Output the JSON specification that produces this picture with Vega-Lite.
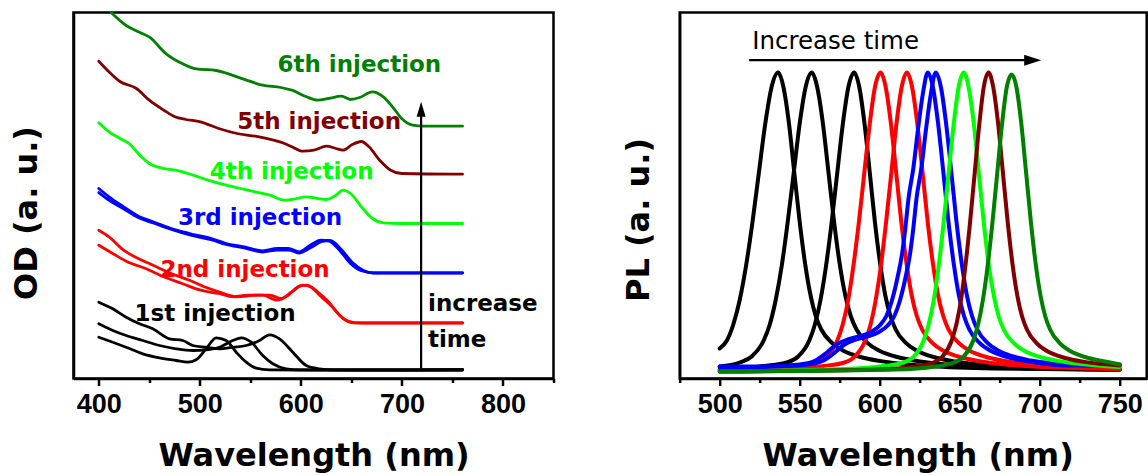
{
"$schema": "https://vega.github.io/schema/vega-lite/v6.json",
"background": "white",
"padding": {"left": 8.5, "top": 9.5, "right": 0, "bottom": 0},
"spacing": 64.2,
"config": {
 "view": {"stroke": "black", "strokeWidth": 2.5},
 "axis": {"grid": false, "domainColor": "black", "domainWidth": 2.5, "tickColor": "black", "tickWidth": 2.5, "labelFont": "Liberation Sans", "labelFontWeight": "bold", "labelFontSize": 27, "labelColor": "black", "labelOverlap": false, "labelFlush": false, "titleFont": "DejaVu Sans", "titleFontWeight": "bold", "titleFontSize": 32, "titleColor": "black"}
},
"datasets": {
 "od": [
  {"s":"k1","inj":"1st","nm":400,"v":41.3},{"s":"k1","inj":"1st","nm":413.9,"v":36.3},{"s":"k1","inj":"1st","nm":427.1,"v":31.3},{"s":"k1","inj":"1st","nm":443.6,"v":24.7},{"s":"k1","inj":"1st","nm":460.1,"v":20.7},{"s":"k1","inj":"1st","nm":476.6,"v":18},{"s":"k1","inj":"1st","nm":488.1,"v":16.3},{"s":"k1","inj":"1st","nm":496.4,"v":18.7},{"s":"k1","inj":"1st","nm":506.3,"v":29.7},{"s":"k1","inj":"1st","nm":516.2,"v":40.7},{"s":"k1","inj":"1st","nm":526.1,"v":38},{"s":"k1","inj":"1st","nm":536,"v":26.3},{"s":"k1","inj":"1st","nm":545.9,"v":16.3},{"s":"k1","inj":"1st","nm":555.8,"v":10.3},{"s":"k1","inj":"1st","nm":569,"v":8.7},{"s":"k1","inj":"1st","nm":600,"v":8.5},{"s":"k1","inj":"1st","nm":660,"v":8.5},{"s":"k1","inj":"1st","nm":760,"v":8.5},
  {"s":"k2","inj":"1st","nm":400,"v":54.7},{"s":"k2","inj":"1st","nm":413.9,"v":48},{"s":"k2","inj":"1st","nm":427.1,"v":43},{"s":"k2","inj":"1st","nm":443.6,"v":38},{"s":"k2","inj":"1st","nm":460.1,"v":33},{"s":"k2","inj":"1st","nm":476.6,"v":29.7},{"s":"k2","inj":"1st","nm":493,"v":28},{"s":"k2","inj":"1st","nm":506.3,"v":28.7},{"s":"k2","inj":"1st","nm":519.5,"v":31.3},{"s":"k2","inj":"1st","nm":532.6,"v":38},{"s":"k2","inj":"1st","nm":541,"v":40.7},{"s":"k2","inj":"1st","nm":550.9,"v":36.3},{"s":"k2","inj":"1st","nm":562.3,"v":23},{"s":"k2","inj":"1st","nm":572.2,"v":14.7},{"s":"k2","inj":"1st","nm":585.5,"v":9.7},{"s":"k2","inj":"1st","nm":598.7,"v":8.7},{"s":"k2","inj":"1st","nm":650,"v":8.5},{"s":"k2","inj":"1st","nm":760,"v":8.5},
  {"s":"k3","inj":"1st","nm":400,"v":76.3},{"s":"k3","inj":"1st","nm":413.9,"v":69.7},{"s":"k3","inj":"1st","nm":427.1,"v":61.3},{"s":"k3","inj":"1st","nm":440.3,"v":54.7},{"s":"k3","inj":"1st","nm":453.5,"v":49.7},{"s":"k3","inj":"1st","nm":470,"v":39.7},{"s":"k3","inj":"1st","nm":483.2,"v":38},{"s":"k3","inj":"1st","nm":493,"v":33},{"s":"k3","inj":"1st","nm":506.3,"v":31.3},{"s":"k3","inj":"1st","nm":519.5,"v":29.7},{"s":"k3","inj":"1st","nm":532.6,"v":31.3},{"s":"k3","inj":"1st","nm":545.9,"v":33},{"s":"k3","inj":"1st","nm":559.1,"v":38},{"s":"k3","inj":"1st","nm":569,"v":43.7},{"s":"k3","inj":"1st","nm":578.9,"v":39.7},{"s":"k3","inj":"1st","nm":592,"v":26.3},{"s":"k3","inj":"1st","nm":605.3,"v":13},{"s":"k3","inj":"1st","nm":618.4,"v":9.7},{"s":"k3","inj":"1st","nm":631.6,"v":8.7},{"s":"k3","inj":"1st","nm":700,"v":8.5},{"s":"k3","inj":"1st","nm":760,"v":9},
  {"s":"r1","inj":"2nd","nm":400,"v":148.3},{"s":"r1","inj":"2nd","nm":410.1,"v":141.7},{"s":"r1","inj":"2nd","nm":424.6,"v":128.3},{"s":"r1","inj":"2nd","nm":439.1,"v":120},{"s":"r1","inj":"2nd","nm":453.6,"v":113.3},{"s":"r1","inj":"2nd","nm":471.7,"v":105},{"s":"r1","inj":"2nd","nm":489.8,"v":98.3},{"s":"r1","inj":"2nd","nm":504.3,"v":91.7},{"s":"r1","inj":"2nd","nm":518.7,"v":86.7},{"s":"r1","inj":"2nd","nm":536.8,"v":81.7},{"s":"r1","inj":"2nd","nm":554.9,"v":83.3},{"s":"r1","inj":"2nd","nm":569.4,"v":83.3},{"s":"r1","inj":"2nd","nm":580.3,"v":80},{"s":"r1","inj":"2nd","nm":591.1,"v":86.7},{"s":"r1","inj":"2nd","nm":602,"v":93.3},{"s":"r1","inj":"2nd","nm":609.2,"v":91.7},{"s":"r1","inj":"2nd","nm":620.1,"v":81.7},{"s":"r1","inj":"2nd","nm":631,"v":71.7},{"s":"r1","inj":"2nd","nm":641.8,"v":60},{"s":"r1","inj":"2nd","nm":652.7,"v":55.7},{"s":"r1","inj":"2nd","nm":760,"v":55.7},
  {"s":"r2","inj":"2nd","nm":400,"v":133.3},{"s":"r2","inj":"2nd","nm":413.8,"v":125},{"s":"r2","inj":"2nd","nm":428.2,"v":116.7},{"s":"r2","inj":"2nd","nm":446.3,"v":110},{"s":"r2","inj":"2nd","nm":464.4,"v":101.7},{"s":"r2","inj":"2nd","nm":482.5,"v":95},{"s":"r2","inj":"2nd","nm":500.6,"v":88.3},{"s":"r2","inj":"2nd","nm":518.7,"v":85},{"s":"r2","inj":"2nd","nm":533.2,"v":81.7},{"s":"r2","inj":"2nd","nm":547.7,"v":83.3},{"s":"r2","inj":"2nd","nm":562.2,"v":83.3},{"s":"r2","inj":"2nd","nm":576.7,"v":78.3},{"s":"r2","inj":"2nd","nm":587.5,"v":83.3},{"s":"r2","inj":"2nd","nm":598.4,"v":92.3},{"s":"r2","inj":"2nd","nm":605.6,"v":93.3},{"s":"r2","inj":"2nd","nm":616.5,"v":86.7},{"s":"r2","inj":"2nd","nm":627.3,"v":76.7},{"s":"r2","inj":"2nd","nm":638.2,"v":63.3},{"s":"r2","inj":"2nd","nm":649.1,"v":56.7},{"s":"r2","inj":"2nd","nm":660,"v":55.5},{"s":"r2","inj":"2nd","nm":760,"v":55.5},
  {"s":"b1","inj":"3rd","nm":400,"v":190},{"s":"b1","inj":"3rd","nm":410.1,"v":181.7},{"s":"b1","inj":"3rd","nm":424.6,"v":171.7},{"s":"b1","inj":"3rd","nm":439.1,"v":162.3},{"s":"b1","inj":"3rd","nm":453.6,"v":156.7},{"s":"b1","inj":"3rd","nm":471.7,"v":150},{"s":"b1","inj":"3rd","nm":489.8,"v":145},{"s":"b1","inj":"3rd","nm":511.5,"v":140},{"s":"b1","inj":"3rd","nm":526,"v":135},{"s":"b1","inj":"3rd","nm":544.1,"v":131.7},{"s":"b1","inj":"3rd","nm":562.2,"v":127.7},{"s":"b1","inj":"3rd","nm":576.7,"v":130},{"s":"b1","inj":"3rd","nm":587.5,"v":130},{"s":"b1","inj":"3rd","nm":598.4,"v":126.7},{"s":"b1","inj":"3rd","nm":609.2,"v":133.3},{"s":"b1","inj":"3rd","nm":620.1,"v":138.3},{"s":"b1","inj":"3rd","nm":627.3,"v":137.7},{"s":"b1","inj":"3rd","nm":638.2,"v":128.3},{"s":"b1","inj":"3rd","nm":649.1,"v":115},{"s":"b1","inj":"3rd","nm":659.9,"v":107.7},{"s":"b1","inj":"3rd","nm":670.8,"v":105.7},{"s":"b1","inj":"3rd","nm":760,"v":105.7},
  {"s":"b2","inj":"3rd","nm":400,"v":186},{"s":"b2","inj":"3rd","nm":410,"v":178.5},{"s":"b2","inj":"3rd","nm":425,"v":169.5},{"s":"b2","inj":"3rd","nm":439,"v":161},{"s":"b2","inj":"3rd","nm":454,"v":155.5},{"s":"b2","inj":"3rd","nm":472,"v":149},{"s":"b2","inj":"3rd","nm":490,"v":143.5},{"s":"b2","inj":"3rd","nm":512,"v":138.5},{"s":"b2","inj":"3rd","nm":526,"v":134},{"s":"b2","inj":"3rd","nm":544,"v":130.5},{"s":"b2","inj":"3rd","nm":562,"v":126.5},{"s":"b2","inj":"3rd","nm":577,"v":128.5},{"s":"b2","inj":"3rd","nm":588,"v":128.5},{"s":"b2","inj":"3rd","nm":598,"v":125.5},{"s":"b2","inj":"3rd","nm":610,"v":131},{"s":"b2","inj":"3rd","nm":621,"v":137},{"s":"b2","inj":"3rd","nm":629,"v":138},{"s":"b2","inj":"3rd","nm":640,"v":129},{"s":"b2","inj":"3rd","nm":651,"v":116},{"s":"b2","inj":"3rd","nm":662,"v":108},{"s":"b2","inj":"3rd","nm":672,"v":105.5},{"s":"b2","inj":"3rd","nm":760,"v":105.5},
  {"s":"l1","inj":"4th","nm":400,"v":255.7},{"s":"l1","inj":"4th","nm":410.1,"v":246.7},{"s":"l1","inj":"4th","nm":421,"v":240},{"s":"l1","inj":"4th","nm":430,"v":235},{"s":"l1","inj":"4th","nm":439.1,"v":225},{"s":"l1","inj":"4th","nm":450,"v":215},{"s":"l1","inj":"4th","nm":464.4,"v":210},{"s":"l1","inj":"4th","nm":478.9,"v":207.7},{"s":"l1","inj":"4th","nm":493.4,"v":203.3},{"s":"l1","inj":"4th","nm":507.9,"v":198.3},{"s":"l1","inj":"4th","nm":526,"v":193.3},{"s":"l1","inj":"4th","nm":540.5,"v":190},{"s":"l1","inj":"4th","nm":554.9,"v":186.7},{"s":"l1","inj":"4th","nm":569.4,"v":183.3},{"s":"l1","inj":"4th","nm":583.9,"v":178.3},{"s":"l1","inj":"4th","nm":591.1,"v":179},{"s":"l1","inj":"4th","nm":605.6,"v":181.7},{"s":"l1","inj":"4th","nm":616.5,"v":180},{"s":"l1","inj":"4th","nm":625.5,"v":179},{"s":"l1","inj":"4th","nm":634.6,"v":183.3},{"s":"l1","inj":"4th","nm":641.8,"v":188.3},{"s":"l1","inj":"4th","nm":649.1,"v":185},{"s":"l1","inj":"4th","nm":659.9,"v":171.7},{"s":"l1","inj":"4th","nm":670.8,"v":160},{"s":"l1","inj":"4th","nm":681.6,"v":155.7},{"s":"l1","inj":"4th","nm":699.7,"v":155},{"s":"l1","inj":"4th","nm":760,"v":155},
  {"s":"m1","inj":"5th","nm":400,"v":317.3},{"s":"m1","inj":"5th","nm":410.1,"v":306.7},{"s":"m1","inj":"5th","nm":421,"v":297},{"s":"m1","inj":"5th","nm":437.3,"v":290},{"s":"m1","inj":"5th","nm":450,"v":278.3},{"s":"m1","inj":"5th","nm":464.4,"v":268.3},{"s":"m1","inj":"5th","nm":475.3,"v":261.7},{"s":"m1","inj":"5th","nm":486.2,"v":259},{"s":"m1","inj":"5th","nm":500.6,"v":256.7},{"s":"m1","inj":"5th","nm":518.7,"v":250},{"s":"m1","inj":"5th","nm":536.8,"v":245},{"s":"m1","inj":"5th","nm":554.9,"v":242.3},{"s":"m1","inj":"5th","nm":573,"v":238.3},{"s":"m1","inj":"5th","nm":583.9,"v":235},{"s":"m1","inj":"5th","nm":591.1,"v":231.7},{"s":"m1","inj":"5th","nm":602,"v":227.3},{"s":"m1","inj":"5th","nm":612.9,"v":228.3},{"s":"m1","inj":"5th","nm":625.5,"v":232.3},{"s":"m1","inj":"5th","nm":634.6,"v":230},{"s":"m1","inj":"5th","nm":641.8,"v":228.3},{"s":"m1","inj":"5th","nm":650.9,"v":234},{"s":"m1","inj":"5th","nm":659.9,"v":237},{"s":"m1","inj":"5th","nm":667.2,"v":232},{"s":"m1","inj":"5th","nm":678,"v":218.3},{"s":"m1","inj":"5th","nm":688.9,"v":208.3},{"s":"m1","inj":"5th","nm":699.7,"v":205},{"s":"m1","inj":"5th","nm":760,"v":204.3},
  {"s":"g1","inj":"6th","nm":412.3,"v":366},{"s":"g1","inj":"6th","nm":427.1,"v":353},{"s":"g1","inj":"6th","nm":440.3,"v":346.3},{"s":"g1","inj":"6th","nm":450.2,"v":341.3},{"s":"g1","inj":"6th","nm":466.7,"v":324.7},{"s":"g1","inj":"6th","nm":483.2,"v":314.7},{"s":"g1","inj":"6th","nm":496.4,"v":309.7},{"s":"g1","inj":"6th","nm":516.2,"v":308},{"s":"g1","inj":"6th","nm":542.5,"v":299.7},{"s":"g1","inj":"6th","nm":562.2,"v":293.3},{"s":"g1","inj":"6th","nm":580.3,"v":291},{"s":"g1","inj":"6th","nm":591.1,"v":288.3},{"s":"g1","inj":"6th","nm":605.6,"v":281.7},{"s":"g1","inj":"6th","nm":616.5,"v":278.3},{"s":"g1","inj":"6th","nm":627.3,"v":280},{"s":"g1","inj":"6th","nm":640,"v":282.3},{"s":"g1","inj":"6th","nm":649.1,"v":279},{"s":"g1","inj":"6th","nm":658.1,"v":281},{"s":"g1","inj":"6th","nm":670.8,"v":286.7},{"s":"g1","inj":"6th","nm":681.6,"v":281.7},{"s":"g1","inj":"6th","nm":690.7,"v":271.7},{"s":"g1","inj":"6th","nm":699.7,"v":260},{"s":"g1","inj":"6th","nm":710.6,"v":253.3},{"s":"g1","inj":"6th","nm":721.5,"v":252.3},{"s":"g1","inj":"6th","nm":760,"v":252.3}
 ],
 "pl": [
  {"s":"p1","inj":"1st","nm":500,"v":30},{"s":"p1","inj":"1st","nm":504.5,"v":38},{"s":"p1","inj":"1st","nm":508.5,"v":54},{"s":"p1","inj":"1st","nm":512.5,"v":78.5},{"s":"p1","inj":"1st","nm":516.5,"v":113},{"s":"p1","inj":"1st","nm":520.5,"v":156.5},{"s":"p1","inj":"1st","nm":524.5,"v":206},{"s":"p1","inj":"1st","nm":528.5,"v":255},{"s":"p1","inj":"1st","nm":532.5,"v":292},{"s":"p1","inj":"1st","nm":536.5,"v":306},{"s":"p1","inj":"1st","nm":539.9,"v":291},{"s":"p1","inj":"1st","nm":543.3,"v":255},{"s":"p1","inj":"1st","nm":546.6,"v":206},{"s":"p1","inj":"1st","nm":550,"v":156.5},{"s":"p1","inj":"1st","nm":553.4,"v":114.6},{"s":"p1","inj":"1st","nm":556.8,"v":83},{"s":"p1","inj":"1st","nm":560.1,"v":62},{"s":"p1","inj":"1st","nm":563.5,"v":49},{"s":"p1","inj":"1st","nm":570.3,"v":35.4},{"s":"p1","inj":"1st","nm":577,"v":28},{"s":"p1","inj":"1st","nm":590.5,"v":20.5},{"s":"p1","inj":"1st","nm":604,"v":16.6},{"s":"p1","inj":"1st","nm":631,"v":12.4},{"s":"p1","inj":"1st","nm":671.5,"v":10},{"s":"p1","inj":"1st","nm":750,"v":9},
  {"s":"p2","inj":"1st","nm":500,"v":12},{"s":"p2","inj":"1st","nm":512.5,"v":16},{"s":"p2","inj":"1st","nm":520,"v":22},{"s":"p2","inj":"1st","nm":527.5,"v":38},{"s":"p2","inj":"1st","nm":531.3,"v":54},{"s":"p2","inj":"1st","nm":535,"v":78.5},{"s":"p2","inj":"1st","nm":538.8,"v":113},{"s":"p2","inj":"1st","nm":542.5,"v":156.5},{"s":"p2","inj":"1st","nm":546.3,"v":206},{"s":"p2","inj":"1st","nm":550,"v":255},{"s":"p2","inj":"1st","nm":553.8,"v":292},{"s":"p2","inj":"1st","nm":557.5,"v":306},{"s":"p2","inj":"1st","nm":561,"v":291},{"s":"p2","inj":"1st","nm":564.5,"v":255},{"s":"p2","inj":"1st","nm":568,"v":206},{"s":"p2","inj":"1st","nm":571.5,"v":156.5},{"s":"p2","inj":"1st","nm":575,"v":114.6},{"s":"p2","inj":"1st","nm":578.5,"v":83},{"s":"p2","inj":"1st","nm":582,"v":62},{"s":"p2","inj":"1st","nm":585.5,"v":49},{"s":"p2","inj":"1st","nm":592.5,"v":35.4},{"s":"p2","inj":"1st","nm":599.5,"v":28},{"s":"p2","inj":"1st","nm":613.5,"v":20.5},{"s":"p2","inj":"1st","nm":627.5,"v":16.6},{"s":"p2","inj":"1st","nm":655.5,"v":12.4},{"s":"p2","inj":"1st","nm":697.5,"v":10},{"s":"p2","inj":"1st","nm":750,"v":9},
  {"s":"p3","inj":"1st","nm":500,"v":9},{"s":"p3","inj":"1st","nm":528,"v":12.5},{"s":"p3","inj":"1st","nm":542,"v":16},{"s":"p3","inj":"1st","nm":549,"v":22},{"s":"p3","inj":"1st","nm":556,"v":38},{"s":"p3","inj":"1st","nm":559.5,"v":54},{"s":"p3","inj":"1st","nm":563,"v":78.5},{"s":"p3","inj":"1st","nm":566.5,"v":113},{"s":"p3","inj":"1st","nm":570,"v":156.5},{"s":"p3","inj":"1st","nm":573.5,"v":206},{"s":"p3","inj":"1st","nm":577,"v":255},{"s":"p3","inj":"1st","nm":580.5,"v":292},{"s":"p3","inj":"1st","nm":584,"v":306},{"s":"p3","inj":"1st","nm":587.3,"v":291},{"s":"p3","inj":"1st","nm":590.5,"v":255},{"s":"p3","inj":"1st","nm":593.8,"v":206},{"s":"p3","inj":"1st","nm":597,"v":156.5},{"s":"p3","inj":"1st","nm":600.3,"v":114.6},{"s":"p3","inj":"1st","nm":603.5,"v":83},{"s":"p3","inj":"1st","nm":606.8,"v":62},{"s":"p3","inj":"1st","nm":610,"v":49},{"s":"p3","inj":"1st","nm":616.5,"v":35.4},{"s":"p3","inj":"1st","nm":623,"v":28},{"s":"p3","inj":"1st","nm":636,"v":20.5},{"s":"p3","inj":"1st","nm":649,"v":16.6},{"s":"p3","inj":"1st","nm":675,"v":12.4},{"s":"p3","inj":"1st","nm":714,"v":10},{"s":"p3","inj":"1st","nm":750,"v":9},
  {"s":"p4","inj":"2nd","nm":500,"v":8},{"s":"p4","inj":"2nd","nm":519.5,"v":9.5},{"s":"p4","inj":"2nd","nm":546.5,"v":12.5},{"s":"p4","inj":"2nd","nm":560,"v":16},{"s":"p4","inj":"2nd","nm":566.8,"v":22},{"s":"p4","inj":"2nd","nm":573.5,"v":38},{"s":"p4","inj":"2nd","nm":576.9,"v":54},{"s":"p4","inj":"2nd","nm":580.3,"v":78.5},{"s":"p4","inj":"2nd","nm":583.6,"v":113},{"s":"p4","inj":"2nd","nm":587,"v":156.5},{"s":"p4","inj":"2nd","nm":590.4,"v":206},{"s":"p4","inj":"2nd","nm":593.8,"v":255},{"s":"p4","inj":"2nd","nm":597.1,"v":292},{"s":"p4","inj":"2nd","nm":600.5,"v":306},{"s":"p4","inj":"2nd","nm":603.8,"v":291},{"s":"p4","inj":"2nd","nm":607,"v":255},{"s":"p4","inj":"2nd","nm":610.3,"v":206},{"s":"p4","inj":"2nd","nm":613.5,"v":156.5},{"s":"p4","inj":"2nd","nm":616.8,"v":114.6},{"s":"p4","inj":"2nd","nm":620,"v":83},{"s":"p4","inj":"2nd","nm":623.3,"v":62},{"s":"p4","inj":"2nd","nm":626.5,"v":49},{"s":"p4","inj":"2nd","nm":633,"v":35.4},{"s":"p4","inj":"2nd","nm":639.5,"v":28},{"s":"p4","inj":"2nd","nm":652.5,"v":20.5},{"s":"p4","inj":"2nd","nm":665.5,"v":16.6},{"s":"p4","inj":"2nd","nm":691.5,"v":12.4},{"s":"p4","inj":"2nd","nm":730.5,"v":10},{"s":"p4","inj":"2nd","nm":750,"v":9.5},
  {"s":"p5","inj":"2nd","nm":500,"v":8},{"s":"p5","inj":"2nd","nm":539,"v":9.5},{"s":"p5","inj":"2nd","nm":565,"v":12.5},{"s":"p5","inj":"2nd","nm":578,"v":16},{"s":"p5","inj":"2nd","nm":584.5,"v":22},{"s":"p5","inj":"2nd","nm":591,"v":38},{"s":"p5","inj":"2nd","nm":594.3,"v":54},{"s":"p5","inj":"2nd","nm":597.5,"v":78.5},{"s":"p5","inj":"2nd","nm":600.8,"v":113},{"s":"p5","inj":"2nd","nm":604,"v":156.5},{"s":"p5","inj":"2nd","nm":607.3,"v":206},{"s":"p5","inj":"2nd","nm":610.5,"v":255},{"s":"p5","inj":"2nd","nm":613.8,"v":292},{"s":"p5","inj":"2nd","nm":617,"v":306},{"s":"p5","inj":"2nd","nm":620.3,"v":291},{"s":"p5","inj":"2nd","nm":623.5,"v":255},{"s":"p5","inj":"2nd","nm":626.8,"v":206},{"s":"p5","inj":"2nd","nm":630,"v":156.5},{"s":"p5","inj":"2nd","nm":633.3,"v":114.6},{"s":"p5","inj":"2nd","nm":636.5,"v":83},{"s":"p5","inj":"2nd","nm":639.8,"v":62},{"s":"p5","inj":"2nd","nm":643,"v":49},{"s":"p5","inj":"2nd","nm":649.5,"v":35.4},{"s":"p5","inj":"2nd","nm":656,"v":28},{"s":"p5","inj":"2nd","nm":669,"v":20.5},{"s":"p5","inj":"2nd","nm":682,"v":16.6},{"s":"p5","inj":"2nd","nm":708,"v":12.4},{"s":"p5","inj":"2nd","nm":750,"v":10},
  {"s":"p6","inj":"3rd","nm":500,"v":12},{"s":"p6","inj":"3rd","nm":530,"v":12},{"s":"p6","inj":"3rd","nm":550,"v":14},{"s":"p6","inj":"3rd","nm":560,"v":18},{"s":"p6","inj":"3rd","nm":567,"v":26},{"s":"p6","inj":"3rd","nm":573,"v":34},{"s":"p6","inj":"3rd","nm":580,"v":39},{"s":"p6","inj":"3rd","nm":587,"v":42},{"s":"p6","inj":"3rd","nm":594,"v":46},{"s":"p6","inj":"3rd","nm":600,"v":53},{"s":"p6","inj":"3rd","nm":604,"v":62},{"s":"p6","inj":"3rd","nm":608,"v":80},{"s":"p6","inj":"3rd","nm":611,"v":100},{"s":"p6","inj":"3rd","nm":614,"v":125},{"s":"p6","inj":"3rd","nm":616,"v":150},{"s":"p6","inj":"3rd","nm":618,"v":180},{"s":"p6","inj":"3rd","nm":621,"v":210},{"s":"p6","inj":"3rd","nm":624,"v":250},{"s":"p6","inj":"3rd","nm":627,"v":285},{"s":"p6","inj":"3rd","nm":630,"v":306},{"s":"p6","inj":"3rd","nm":633.3,"v":291},{"s":"p6","inj":"3rd","nm":636.5,"v":255},{"s":"p6","inj":"3rd","nm":639.8,"v":206},{"s":"p6","inj":"3rd","nm":643,"v":156.5},{"s":"p6","inj":"3rd","nm":646.3,"v":114.6},{"s":"p6","inj":"3rd","nm":649.5,"v":83},{"s":"p6","inj":"3rd","nm":652.8,"v":62},{"s":"p6","inj":"3rd","nm":656,"v":49},{"s":"p6","inj":"3rd","nm":662.5,"v":35.4},{"s":"p6","inj":"3rd","nm":669,"v":28},{"s":"p6","inj":"3rd","nm":682,"v":20.5},{"s":"p6","inj":"3rd","nm":695,"v":16.6},{"s":"p6","inj":"3rd","nm":721,"v":13},{"s":"p6","inj":"3rd","nm":750,"v":13},
  {"s":"p7","inj":"3rd","nm":500,"v":11},{"s":"p7","inj":"3rd","nm":535,"v":12},{"s":"p7","inj":"3rd","nm":555,"v":14},{"s":"p7","inj":"3rd","nm":565,"v":18},{"s":"p7","inj":"3rd","nm":572,"v":26},{"s":"p7","inj":"3rd","nm":578,"v":34},{"s":"p7","inj":"3rd","nm":585,"v":39},{"s":"p7","inj":"3rd","nm":592,"v":42},{"s":"p7","inj":"3rd","nm":599,"v":46},{"s":"p7","inj":"3rd","nm":605,"v":53},{"s":"p7","inj":"3rd","nm":609,"v":62},{"s":"p7","inj":"3rd","nm":613,"v":80},{"s":"p7","inj":"3rd","nm":616,"v":100},{"s":"p7","inj":"3rd","nm":619,"v":125},{"s":"p7","inj":"3rd","nm":621,"v":150},{"s":"p7","inj":"3rd","nm":623,"v":180},{"s":"p7","inj":"3rd","nm":626,"v":210},{"s":"p7","inj":"3rd","nm":629,"v":250},{"s":"p7","inj":"3rd","nm":632,"v":285},{"s":"p7","inj":"3rd","nm":635,"v":306},{"s":"p7","inj":"3rd","nm":638.3,"v":291},{"s":"p7","inj":"3rd","nm":641.5,"v":255},{"s":"p7","inj":"3rd","nm":644.8,"v":206},{"s":"p7","inj":"3rd","nm":648,"v":156.5},{"s":"p7","inj":"3rd","nm":651.3,"v":114.6},{"s":"p7","inj":"3rd","nm":654.5,"v":83},{"s":"p7","inj":"3rd","nm":657.8,"v":62},{"s":"p7","inj":"3rd","nm":661,"v":49},{"s":"p7","inj":"3rd","nm":667.5,"v":35.4},{"s":"p7","inj":"3rd","nm":674,"v":28},{"s":"p7","inj":"3rd","nm":687,"v":20.5},{"s":"p7","inj":"3rd","nm":700,"v":16.6},{"s":"p7","inj":"3rd","nm":726,"v":14},{"s":"p7","inj":"3rd","nm":750,"v":14},
  {"s":"p8","inj":"4th","nm":500,"v":7},{"s":"p8","inj":"4th","nm":577.5,"v":9.5},{"s":"p8","inj":"4th","nm":602.5,"v":12.5},{"s":"p8","inj":"4th","nm":615,"v":16},{"s":"p8","inj":"4th","nm":621.3,"v":22},{"s":"p8","inj":"4th","nm":627.5,"v":38},{"s":"p8","inj":"4th","nm":630.6,"v":54},{"s":"p8","inj":"4th","nm":633.8,"v":78.5},{"s":"p8","inj":"4th","nm":636.9,"v":113},{"s":"p8","inj":"4th","nm":640,"v":156.5},{"s":"p8","inj":"4th","nm":643.1,"v":206},{"s":"p8","inj":"4th","nm":646.3,"v":255},{"s":"p8","inj":"4th","nm":649.4,"v":292},{"s":"p8","inj":"4th","nm":652.5,"v":306},{"s":"p8","inj":"4th","nm":655.6,"v":291},{"s":"p8","inj":"4th","nm":658.8,"v":255},{"s":"p8","inj":"4th","nm":661.9,"v":206},{"s":"p8","inj":"4th","nm":665,"v":156.5},{"s":"p8","inj":"4th","nm":668.1,"v":114.6},{"s":"p8","inj":"4th","nm":671.3,"v":83},{"s":"p8","inj":"4th","nm":674.4,"v":62},{"s":"p8","inj":"4th","nm":677.5,"v":49},{"s":"p8","inj":"4th","nm":683.8,"v":35.4},{"s":"p8","inj":"4th","nm":690,"v":28},{"s":"p8","inj":"4th","nm":702.5,"v":20.5},{"s":"p8","inj":"4th","nm":715,"v":16.6},{"s":"p8","inj":"4th","nm":740,"v":12.4},{"s":"p8","inj":"4th","nm":750,"v":11.5},
  {"s":"p9","inj":"5th","nm":500,"v":7},{"s":"p9","inj":"5th","nm":599,"v":9},{"s":"p9","inj":"5th","nm":622,"v":12},{"s":"p9","inj":"5th","nm":633.5,"v":16},{"s":"p9","inj":"5th","nm":639.3,"v":22},{"s":"p9","inj":"5th","nm":645,"v":38},{"s":"p9","inj":"5th","nm":647.9,"v":54},{"s":"p9","inj":"5th","nm":650.8,"v":78.5},{"s":"p9","inj":"5th","nm":653.6,"v":113},{"s":"p9","inj":"5th","nm":656.5,"v":156.5},{"s":"p9","inj":"5th","nm":659.4,"v":206},{"s":"p9","inj":"5th","nm":662.3,"v":255},{"s":"p9","inj":"5th","nm":665.1,"v":292},{"s":"p9","inj":"5th","nm":668,"v":306},{"s":"p9","inj":"5th","nm":671,"v":291},{"s":"p9","inj":"5th","nm":674,"v":255},{"s":"p9","inj":"5th","nm":677,"v":206},{"s":"p9","inj":"5th","nm":680,"v":156.5},{"s":"p9","inj":"5th","nm":683,"v":114.6},{"s":"p9","inj":"5th","nm":686,"v":83},{"s":"p9","inj":"5th","nm":689,"v":62},{"s":"p9","inj":"5th","nm":692,"v":49},{"s":"p9","inj":"5th","nm":698,"v":35.4},{"s":"p9","inj":"5th","nm":704,"v":28},{"s":"p9","inj":"5th","nm":716,"v":20.5},{"s":"p9","inj":"5th","nm":728,"v":16.6},{"s":"p9","inj":"5th","nm":750,"v":13},
  {"s":"pa","inj":"6th","nm":500,"v":7},{"s":"pa","inj":"6th","nm":610.5,"v":9},{"s":"pa","inj":"6th","nm":634.5,"v":12},{"s":"pa","inj":"6th","nm":646.5,"v":16},{"s":"pa","inj":"6th","nm":652.5,"v":22},{"s":"pa","inj":"6th","nm":658.5,"v":38},{"s":"pa","inj":"6th","nm":661.5,"v":54},{"s":"pa","inj":"6th","nm":664.5,"v":78.5},{"s":"pa","inj":"6th","nm":667.5,"v":113},{"s":"pa","inj":"6th","nm":670.5,"v":156.5},{"s":"pa","inj":"6th","nm":673.5,"v":206},{"s":"pa","inj":"6th","nm":676.5,"v":255},{"s":"pa","inj":"6th","nm":679.5,"v":292},{"s":"pa","inj":"6th","nm":682.5,"v":304},{"s":"pa","inj":"6th","nm":685.5,"v":291},{"s":"pa","inj":"6th","nm":688.5,"v":255},{"s":"pa","inj":"6th","nm":691.5,"v":206},{"s":"pa","inj":"6th","nm":694.5,"v":156.5},{"s":"pa","inj":"6th","nm":697.5,"v":114.6},{"s":"pa","inj":"6th","nm":700.5,"v":83},{"s":"pa","inj":"6th","nm":703.5,"v":62},{"s":"pa","inj":"6th","nm":706.5,"v":49},{"s":"pa","inj":"6th","nm":712.5,"v":35.4},{"s":"pa","inj":"6th","nm":718.5,"v":28},{"s":"pa","inj":"6th","nm":730.5,"v":20.5},{"s":"pa","inj":"6th","nm":742.5,"v":16.6},{"s":"pa","inj":"6th","nm":750,"v":14}
 ],
 "odText": [
  {"t":"6th injection","inj":"6th","nm":576.8,"v":306.3},
  {"t":"5th injection","inj":"5th","nm":537,"v":249.7},
  {"t":"4th injection","inj":"4th","nm":509.8,"v":199.7},
  {"t":"3rd injection","inj":"3rd","nm":478.3,"v":154},
  {"t":"2nd injection","inj":"2nd","nm":461,"v":102},
  {"t":"1st injection","inj":"1st","nm":435.4,"v":58},
  {"t":"increase","inj":"1st","nm":725.8,"v":67.3},
  {"t":"time","inj":"1st","nm":725.8,"v":31.3}
 ],
 "odArrow": [{"nm":719,"v":10,"v2":264}],
 "odHead": [{"nm":719,"v":269.2}],
 "plText": [{"t":"Increase time","nm":520.3,"v":329.7}],
 "plArrow": [{"nm":518.4,"nm2":694,"v":318.3}],
 "plHead": [{"nm":695.6,"v":318.3}]
},
"hconcat": [
 {
  "width": 480, "height": 366,
  "encoding": {
   "x": {"field": "nm", "type": "quantitative", "scale": {"domain": [375, 850], "nice": false, "zero": false},
     "axis": {"orient": "bottom", "title": "Wavelength (nm)", "values": [400,450,500,550,600,650,700,750,800,850], "labelExpr": "datum.value % 100 === 0 ? datum.label : ''", "tickSize": {"condition": {"test": "datum.value % 100 === 0", "value": 7}, "value": 4}, "labelPadding": 6, "titleBaseline": "top", "titleY": 62}},
   "y": {"field": "v", "type": "quantitative", "scale": {"domain": [0, 366], "nice": false, "zero": false},
     "axis": {"title": "OD (a. u.)", "ticks": false, "labels": false, "minExtent": 0, "titlePadding": 30.5, "titleY": 200}}
  },
  "layer": [
   {
    "data": {"name": "od"},
    "mark": {"type": "line", "strokeWidth": 2.8, "interpolate": "monotone", "strokeJoin": "round", "strokeCap": "round"},
    "encoding": {
     "color": {"field": "inj", "type": "nominal", "scale": {"domain": ["1st","2nd","3rd","4th","5th","6th"], "range": ["#000000","#ff0000","#0000ff","#00ff00","#800000","#008000"]}, "legend": null},
     "detail": {"field": "s"}
    }
   },
   {
    "data": {"name": "odText"},
    "mark": {"type": "text", "align": "left", "baseline": "alphabetic", "font": "DejaVu Sans", "fontWeight": "bold", "fontSize": 23},
    "encoding": {
     "text": {"field": "t"},
     "color": {"field": "inj", "type": "nominal", "scale": {"domain": ["1st","2nd","3rd","4th","5th","6th"], "range": ["#000000","#ff0000","#0000ff","#00ff00","#800000","#008000"]}, "legend": null}
    }
   },
   {
    "data": {"name": "odArrow"},
    "mark": {"type": "rule", "color": "black", "strokeWidth": 2.2},
    "encoding": {"y2": {"field": "v2"}}
   },
   {
    "data": {"name": "odHead"},
    "mark": {"type": "point", "shape": "M0,-1L0.6,1L-0.6,1Z", "size": 225, "filled": true, "color": "black", "opacity": 1},
    "encoding": {}
   }
  ]
 },
 {
  "width": 467, "height": 366,
  "encoding": {
   "x": {"field": "nm", "type": "quantitative", "scale": {"domain": [475, 766.875], "nice": false, "zero": false},
     "axis": {"orient": "bottom", "title": "Wavelength (nm)", "values": [475,500,525,550,575,600,625,650,675,700,725,750], "labelExpr": "datum.value % 50 === 0 ? datum.label : ''", "tickSize": {"condition": {"test": "datum.value % 50 === 0", "value": 7}, "value": 4}, "labelPadding": 6, "titleBaseline": "top", "titleY": 62, "titleX": 238}},
   "y": {"field": "v", "type": "quantitative", "scale": {"domain": [0, 366], "nice": false, "zero": false},
     "axis": {"title": "PL (a. u.)", "ticks": false, "labels": false, "minExtent": 0, "titlePadding": 24.6, "titleY": 207}}
  },
  "layer": [
   {
    "data": {"name": "pl"},
    "mark": {"type": "line", "strokeWidth": 4, "interpolate": "monotone", "strokeJoin": "round", "strokeCap": "round"},
    "encoding": {
     "color": {"field": "inj", "type": "nominal", "scale": {"domain": ["1st","2nd","3rd","4th","5th","6th"], "range": ["#000000","#ff0000","#0000ff","#00ff00","#800000","#008000"]}, "legend": null},
     "detail": {"field": "s"}
    }
   },
   {
    "data": {"name": "plText"},
    "mark": {"type": "text", "align": "left", "baseline": "alphabetic", "font": "DejaVu Sans", "fontSize": 24.5, "color": "black"},
    "encoding": {"text": {"field": "t"}}
   },
   {
    "data": {"name": "plArrow"},
    "mark": {"type": "rule", "color": "black", "strokeWidth": 2.2},
    "encoding": {"x2": {"field": "nm2"}}
   },
   {
    "data": {"name": "plHead"},
    "mark": {"type": "point", "shape": "M-1,-0.65L1,0L-1,0.65Z", "size": 289, "filled": true, "color": "black", "opacity": 1},
    "encoding": {}
   }
  ]
 }
]
}
